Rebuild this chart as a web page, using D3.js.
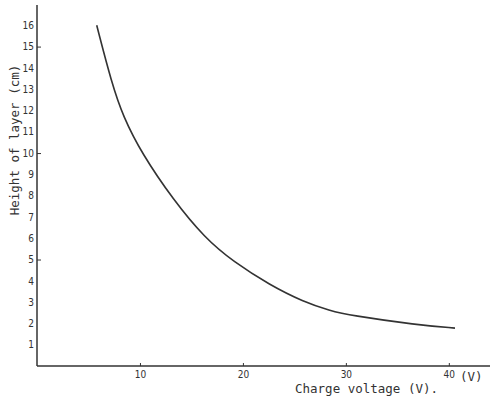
<!DOCTYPE html>
<html>
<head>
  <meta charset="utf-8">
  <title>Height of layer vs charge voltage</title>
  <script src="https://d3js.org/d3.v7.min.js"></script>
  <style>
    body { margin: 0; background: #fff; }
    .tick text { font-family: 'DejaVu Sans Condensed', 'DejaVu Sans', sans-serif; font-size: 10px; fill: #333; }
    .label { font-family: 'DejaVu Sans Mono', 'Liberation Mono', monospace; font-size: 12.5px; fill: #333; }
  </style>
</head>
<body>
  <div id="chart"></div>
  <script>
    // values
    var voltage = [5.8, 7.26, 8.38, 10.17, 13.24, 16.32, 19.07, 22.63, 25.87, 28.46, 30.4, 36.9, 40.6];
    var layerHeight = [16.0, 13.28, 11.7, 9.99, 7.8, 6.0, 4.9, 3.8, 3.02, 2.6, 2.38, 1.93, 1.78];
    var xTicks = [10, 20, 30, 40];
    var yTicks = d3.range(1, 17);
    var yMarks = [5, 10, 15];

    var width = 490, height = 400;

    var svg = d3.select("#chart")
      .append("svg")
      .attr("width", width)
      .attr("height", height);

    var x = d3.scaleLinear().domain([0, 44]).range([37, 490]);
    var y = d3.scaleLinear().domain([0, 17]).range([366, 4]);

    var ink = "#333";

    // axis lines
    svg.append("line")
      .attr("x1", x(0)).attr("x2", x(0))
      .attr("y1", y(0)).attr("y2", 5)
      .attr("stroke", ink).attr("stroke-width", 1.5);
    svg.append("line")
      .attr("x1", x(0)).attr("x2", 490)
      .attr("y1", y(0)).attr("y2", y(0))
      .attr("stroke", ink).attr("stroke-width", 1.5);

    // y labels
    var yAx = svg.append("g")
      .attr("transform", "translate(" + x(0) + ",0)")
      .call(d3.axisLeft(y).tickValues(yTicks).tickSize(0).tickPadding(3));
    yAx.select(".domain").remove();

    // small inward marks at 5, 10, 15
    var yM = svg.append("g")
      .attr("transform", "translate(" + x(0) + ",0)")
      .call(d3.axisRight(y).tickValues(yMarks).tickSize(4).tickFormat(""));
    yM.select(".domain").remove();
    yM.selectAll("line").attr("stroke", ink);

    // x labels + inward marks
    var xAx = svg.append("g")
      .attr("transform", "translate(0," + y(0) + ")")
      .call(d3.axisBottom(x).tickValues(xTicks).tickSize(0).tickPadding(5));
    xAx.select(".domain").remove();
    var xM = svg.append("g")
      .attr("transform", "translate(0," + y(0) + ")")
      .call(d3.axisTop(x).tickValues(xTicks).tickSize(3).tickFormat(""));
    xM.select(".domain").remove();
    xM.selectAll("line").attr("stroke", ink);

    // curve, smoothed (hand-drawn in the original)
    var line = d3.line()
      .x((d, i) => x(voltage[i]))
      .y((d, i) => y(layerHeight[i]))
      .curve(d3.curveBasis);

    svg.append("path")
      .datum(voltage)
      .attr("d", line)
      .attr("fill", "none")
      .attr("stroke", ink)
      .attr("stroke-width", 1.6);

    // titles
    svg.append("text")
      .attr("class", "label")
      .attr("x", 460).attr("y", 381)
      .text("(V)");

    svg.append("text")
      .attr("class", "label")
      .attr("x", 295).attr("y", 393)
      .text("Charge voltage (V).");

    svg.append("text")
      .attr("class", "label")
      .attr("transform", "translate(19,140) rotate(-90)")
      .attr("text-anchor", "middle")
      .text("Height of layer (cm)");
  </script>
</body>
</html>
